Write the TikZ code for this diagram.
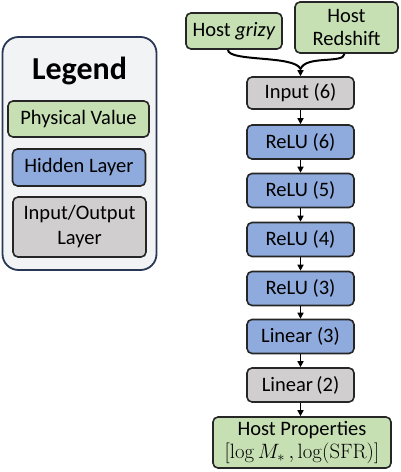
\documentclass[tikz,border=0pt]{standalone}
\usepackage[no-math]{fontspec}
\setmainfont{Carlito}
\usetikzlibrary{arrows.meta}
\definecolor{pgreen}{RGB}{198,224,180}
\definecolor{pblue}{RGB}{143,170,220}
\definecolor{pgray}{RGB}{208,206,206}
\definecolor{legbg}{RGB}{242,243,245}
\definecolor{legline}{RGB}{40,55,85}
\definecolor{boxline}{RGB}{38,38,38}
\tikzset{
  box/.style={draw=boxline, line width=1.6pt, rounded corners=5pt, align=center,
    inner sep=0pt, font=\fontsize{20.5}{23}\selectfont},
  layer/.style={box, minimum width=107pt, minimum height=34pt},
  phys/.style={fill=pgreen},
  hidden/.style={fill=pblue},
  io/.style={fill=pgray},
  arr/.style={draw=black, line width=1.5pt, -{Triangle[length=6pt,width=6pt]}},
  link/.style={draw=black, line width=2pt},
}
\begin{document}
\begin{tikzpicture}[x=1pt,y=-1pt]
\path[use as bounding box] (0,0) rectangle (400,472);
% legend
\node[draw=legline, fill=legbg, line width=1.8pt, rounded corners=16pt,
  minimum width=154pt, minimum height=233pt] (legend) at (79.5,153.5) {};
\node[font=\fontsize{32}{35}\selectfont\bfseries] (title) at (79.5,71) {Legend};
\node[box, phys, minimum width=141pt, minimum height=36pt] (lpv) at (78.5,119) {Physical Value};
\node[box, hidden, minimum width=133pt, minimum height=37pt] (lhl) at (79,167.5) {Hidden Layer};
\node[box, io, minimum width=133pt, minimum height=60pt] (lio) at (79.5,227) {Input/Output\\[2pt]Layer};
% network
\node[box, phys, minimum width=96pt, minimum height=36pt] (grizy) at (234,31) {Host \textit{grizy}};
\node[box, phys, minimum width=103pt, minimum height=51pt] (redshift) at (346.5,27.5) {Host\\Redshift};
\node[layer, io, minimum height=32pt] (in) at (300.5,93) {Input (6)};
\node[layer, hidden] (r6) at (300.5,142) {ReLU (6)};
\node[layer, hidden] (r5) at (300.5,190.5) {ReLU (5)};
\node[layer, hidden] (r4) at (300.5,239.5) {ReLU (4)};
\node[layer, hidden] (r3) at (300.5,288.5) {ReLU (3)};
\node[layer, hidden] (l3) at (300.5,336.5) {Linear (3)};
\node[layer, io] (l2) at (300.5,385) {Linear\,(2)};
\node[box, phys, minimum width=178pt, minimum height=51pt] (out) at (302,442.5)
  {Host Properties\\$[\log M_{*}\,,\log(\mathrm{SFR})]$};
\coordinate (m) at (300.5,69);
\draw[link] ([xshift=-6pt]grizy.south) .. controls (228,62) and (295,55) .. (m);
\draw[link] ([xshift=-2pt]redshift.south) .. controls (344,64) and (306,55) .. (m);
\draw[arr] (m) -- (in.north);
\draw[arr] (in) -- (r6);
\draw[arr] (r6) -- (r5);
\draw[arr] (r5) -- (r4);
\draw[arr] (r4) -- (r3);
\draw[arr] (r3) -- (l3);
\draw[arr] (l3) -- (l2);
\draw[arr] (l2) -- (out.north -| l2);
\end{tikzpicture}
\end{document}
